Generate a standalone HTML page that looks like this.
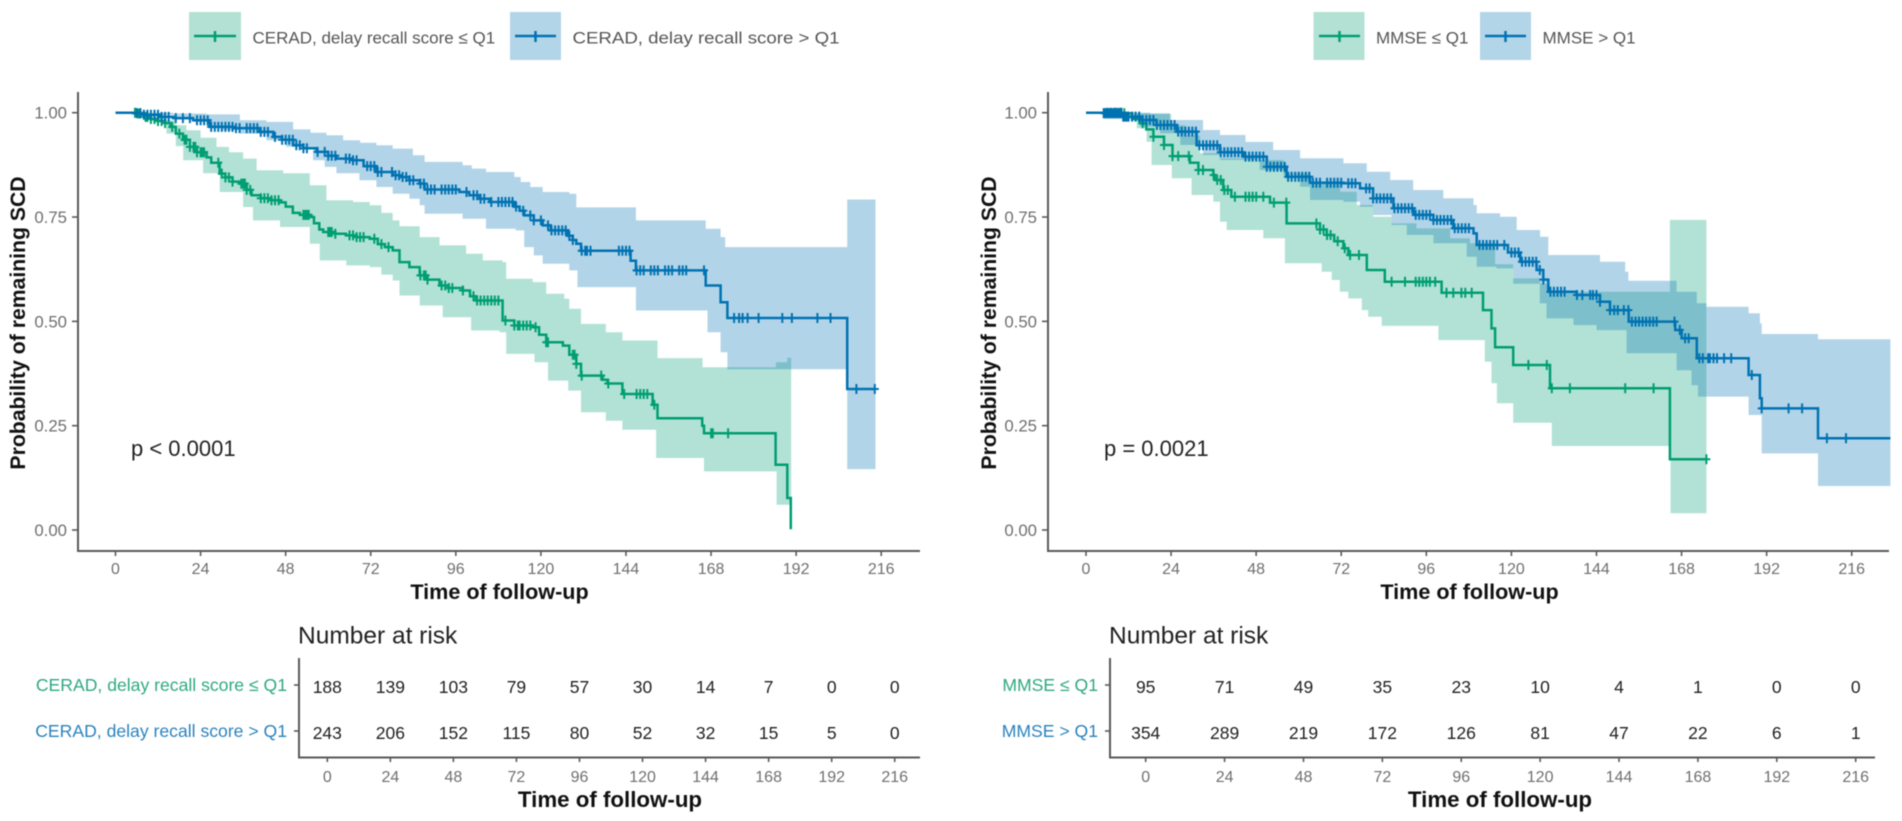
<!DOCTYPE html>
<html lang="en">
<head>
<meta charset="utf-8">
<title>Kaplan-Meier curves: CERAD delay recall and MMSE</title>
<style>
html,body{margin:0;padding:0;background:#fff;width:1902px;height:821px;overflow:hidden}
svg{display:block;filter:blur(.65px)}
text{font-family:"Liberation Sans",sans-serif}
</style>
</head>
<body>
<svg id="figure" xmlns="http://www.w3.org/2000/svg" width="1902" height="821" viewBox="0 0 1902 821">
  <g>
    <g>
      <rect x="189" y="12" width="52" height="48" fill="#b3e2d5"/>
      <path d="M194 36H236M215 31V42" stroke="#009E73" stroke-width="2.5" fill="none"/>
      <text x="252.5" y="43.5" font-size="17" fill="#555">CERAD, delay recall score ≤ Q1</text>
    </g>
    <g>
      <rect x="510" y="12" width="51" height="48" fill="#b3d5e8"/>
      <path d="M515 36H556M535.5 31V42" stroke="#0072B2" stroke-width="2.5" fill="none"/>
      <text x="572.5" y="43.5" font-size="17" fill="#555" textLength="267" lengthAdjust="spacingAndGlyphs">CERAD, delay recall score &gt; Q1</text>
    </g>
  </g>
  <g>
    <g>
      <rect x="1313.5" y="12" width="51" height="48" fill="#b3e2d5"/>
      <path d="M1319 36H1360M1339.5 31V42" stroke="#009E73" stroke-width="2.5" fill="none"/>
      <text x="1376" y="43.5" font-size="17" fill="#555">MMSE ≤ Q1</text>
    </g>
    <g>
      <rect x="1480" y="12" width="51" height="48" fill="#b3d5e8"/>
      <path d="M1485 36H1526M1505.5 31V42" stroke="#0072B2" stroke-width="2.5" fill="none"/>
      <text x="1542.5" y="43.5" font-size="17" fill="#555">MMSE &gt; Q1</text>
    </g>
  </g>
</svg>
<script>
// ---- Shared axis data ----
const xTickLabels = [0, 24, 48, 72, 96, 120, 144, 168, 192, 216];
const yTickLabels = [0, 0.25, 0.5, 0.75, 1];

// ---- Left panel: CERAD ----
const ceradLowTimes = [0,6,8,10,12,14,15.5,17,19,21,23,25.7,27,29.4,31,33,35,37,38.4,41,44,46.4,48,50,52,54.8,56,57.5,58.6,62,65,68,71.7,74,76,78.2,80.1,82.9,85.8,88,91.4,94,98,100,101.7,109.2,112.5,117.7,119.5,121.5,126.2,128,130,131.3,137.4,138.8,143,151.5,152.9,165.5,166,186.2,189.5,190.5];
const ceradLowSurvival = [1,.998,.99,.985,.98,.975,.966,.95,.935,.918,.905,.893,.88,.854,.845,.835,.83,.815,.802,.795,.79,.785,.775,.76,.755,.75,.735,.72,.714,.71,.706,.702,.698,.685,.678,.67,.642,.63,.61,.6,.586,.58,.574,.56,.55,.502,.49,.486,.468,.45,.442,.42,.398,.37,.36,.351,.326,.3,.268,.25,.232,.1565,.0766,.002];
const ceradLowUpperTimes = [0,5.9,14.4,17,20,24,28.5,32,36,39.8,47.3,54.8,59.5,67,71.7,75,78.2,80.1,85.8,91.4,98.9,103.6,109.2,110.2,117.7,121.5,126.6,128,131.3,138.3,143,152.9,165.6,186.3,189.5,190.6];
const ceradLowUpper = [1,.998,.982,.97,.958,.94,.918,.905,.89,.862,.855,.826,.79,.786,.778,.76,.742,.728,.702,.682,.662,.646,.642,.602,.594,.566,.554,.53,.494,.474,.454,.412,.39,.402,.413,.413];
const ceradLowLowerTimes = [0,5.9,10,14.4,17,19.1,24.7,29.4,36,38.8,46.4,54.8,57.6,65.1,71.7,75,78.2,80.1,85.8,92.3,100.3,108.3,110.2,118.2,122,127.7,131.3,138.3,143,152.5,166,186.5,190.6];
const ceradLowLower = [1,.998,.98,.95,.92,.886,.855,.81,.774,.742,.726,.686,.646,.634,.63,.612,.598,.562,.538,.51,.478,.474,.422,.402,.358,.334,.282,.262,.24,.1726,.1405,.0605,.0605];
const ceradLowCensor = [5.5,6.5,7,8.5,9,10,11,12,13,14,16,18,19.5,20,21,22,22.5,23,24,24.5,25,29,30,31,32,33,35.5,36,36.5,37,38,41,42,43,44,45,46,53,53.5,54,54.5,60,60.5,61,62,66,67,68,69,70,73,75,77,86,87,87.5,88,92,93,94,95,98,101,102,103,104,105,106,107,108,110,112.5,113.5,114,115,116,117,118.5,121.5,122,129,129.5,130,131.5,137,139,143.5,147,148,149,150,152,168,168.5,172.8];

const ceradHighTimes = [0,5,8,12.5,16.3,21.9,26.6,33.2,40.7,44.5,47,50.1,53,56.7,60,62.3,67,70,73.6,78.2,80.1,82.9,85.8,87.2,97,99.8,102.7,105.5,112.5,114,115.3,118,120.5,122.8,127.6,129,130,131.3,145.3,146.8,166.5,170.7,172.6,206.4,214.4];
const ceradHighSurvival = [1,.999,.995,.99,.987,.982,.966,.963,.954,.942,.935,.922,.915,.906,.897,.89,.886,.872,.858,.85,.846,.838,.83,.816,.81,.802,.794,.786,.775,.765,.754,.742,.73,.718,.705,.695,.686,.669,.645,.622,.586,.546,.508,.338,.338];
const ceradHighUpperTimes = [0,16.3,25.7,35.1,42.6,50.1,55,59.5,64.2,69,73.6,78.2,83.9,87.2,97.9,100.5,104.5,112.5,114.3,117,120.5,128,130,146.8,166.5,170.7,172,206.4,214.4];
const ceradHighUpper = [1,.998,.996,.982,.978,.96,.952,.946,.934,.928,.922,.914,.898,.882,.874,.866,.858,.846,.834,.822,.81,.806,.773,.742,.722,.702,.678,.792,.792];
const ceradHighLowerTimes = [0,5,16.3,21.9,25.7,30,35.1,42.6,48.2,55.7,59,62.3,68.8,73.6,78.2,82.9,85.8,87.2,97.9,104.5,112.9,115.3,118,120.5,128,130.3,146.8,167,170.7,172.6,206.4,214.4];
const ceradHighLower = [1,.995,.987,.978,.966,.958,.95,.934,.918,.886,.87,.855,.838,.822,.806,.794,.778,.758,.746,.722,.718,.678,.658,.638,.622,.582,.526,.474,.426,.385,.146,.146];
const ceradHighCensor = [6,7,8,9,10,11,12,13,14,15,17,19,21,23,24,25,26,27,28,29,30,31,32,33,34,35,37,38,39,40,41,42,43,45,47,48,49,50,51,52,53,54,57,59,60,61,62,65,66,67,68,71,72,73,74,75,78,79,80,81,82,83,84,86,87,88,89,90,92,93,94,95,96,99,101,102,103,104,106,108,109,110,111,112,113,115,117,118,120,122,123,124,125,126,127,128,129,131.5,132.5,133,134,142,143,144,145,147,148,149,151,152,153,155,156,157,159,160,161,166,174.5,175.9,176.9,178.3,181.4,188.1,190.8,198,201.7,209,214.2];

const ceradRowLabels = ["CERAD, delay recall score ≤ Q1", "CERAD, delay recall score > Q1"];
const ceradLowRisk = [188,139,103,79,57,30,14,7,0,0];
const ceradHighRisk = [243,206,152,115,80,52,32,15,5,0];

// ---- Right panel: MMSE ----
const mmseLowTimes = [0,10.5,13,15.2,17,19,22,24.4,29.3,31.7,35.9,36.4,38.7,41,51.9,56.6,66,67.9,70,72.6,74,79.2,84.3,100.3,112,114.4,115.4,120.5,130.9,164.7,175];
const mmseLowSurvival = [1,.9985,.985,.9745,.96,.9425,.9226,.896,.88,.8627,.8507,.8387,.8147,.7987,.7845,.7347,.72,.707,.692,.675,.659,.623,.595,.5687,.527,.483,.438,.3954,.3395,.1694,.1694];
const mmseLowUpperTimes = [0,10,18.1,24,28,32.2,37.8,48.1,55.7,56.6,63.2,71.7,76.4,81,86.2,93.2,102.7,108.3,115.4,120.5,128,130.9,164.7,175];
const mmseLowUpper = [1,.999,.997,.97,.945,.9027,.8907,.8867,.88,.8547,.8347,.8107,.7788,.7508,.7347,.7228,.6987,.687,.637,.603,.59,.571,.743,.743];
const mmseLowLowerTimes = [0,10,14.3,17.1,18.5,24.2,29.8,35.9,37.8,39.7,50,56.1,66.5,69.3,71.6,74,77.8,79.6,83.4,99.4,112.5,114.4,115.9,120.5,131.4,164.9,175];
const mmseLowLower = [1,.995,.9625,.9305,.8747,.8428,.8028,.7867,.7389,.7189,.699,.639,.619,.599,.571,.555,.527,.511,.489,.455,.4034,.3515,.3035,.2572,.2013,.04,.04];
const mmseLowCensor = [6,7,8,8.6,9.5,10,10.8,15,16,19,22,24.4,26,29,31.7,33,36,37,38,39,40,42,45,46,47,48,50,53,56.5,65,66,67,68,69,71,73,74.5,77,86.2,90,93,94,95,96,97,98.5,101.7,103.6,105.9,107,108.8,124.8,130,131.4,136.5,152.1,160.1,175];

const mmseHighTimes = [0,4.9,10.5,15.2,19.9,25.6,31.2,37.8,44.4,51,56.6,63.2,72.6,77.3,81,86.7,92.4,98,103.6,109.3,110.2,119,122.5,127.1,129,130.4,138.4,145,147.8,153.1,166.2,168,172.3,186.9,190.1,190.6,206.5,226.9];
const mmseHighSurvival = [1,.999,.9906,.9825,.9705,.9546,.922,.905,.8947,.8707,.8467,.8323,.8307,.8187,.7947,.7708,.755,.7428,.723,.7108,.683,.665,.643,.623,.6,.571,.5632,.547,.527,.4993,.4792,.4593,.4114,.3714,.3155,.2914,.2197,.2197];
const mmseHighUpperTimes = [0,18.1,23.7,33,37.8,45,52.8,60.4,72.6,79.2,85.8,92.3,100.8,109.3,110.2,116.8,121.5,128.1,130.4,145,152.1,153,166.6,172.3,175,186.9,190.1,190.6,206.5,226.9];
const mmseHighUpper = [1,.9985,.9825,.9585,.9466,.93,.9106,.8907,.8787,.8587,.8387,.8148,.7948,.7788,.7589,.7508,.7189,.7029,.659,.643,.619,.5974,.571,.5432,.5352,.5192,.495,.4697,.457,.457];
const mmseHighLowerTimes = [0,4.9,15.2,20.9,26.6,33,37.8,49,55.7,60.4,63.2,72.6,77.3,81,86.2,90.5,98,107.4,110.2,115.8,120.5,128,129.9,137.5,144,152.5,166.6,170.8,172.6,186.9,190.6,206.5,226.9];
const mmseHighLower = [1,.985,.9666,.9506,.9226,.8987,.8867,.8627,.8507,.8227,.7908,.7868,.7748,.7548,.7309,.7069,.687,.655,.631,.627,.59,.543,.507,.491,.479,.4235,.383,.347,.3196,.2756,.1836,.1054,.1054];
const mmseHighCensor = [5,5.5,6,6.5,7,7.5,8,8.5,9,9.5,10,10.5,11,11.5,12,13,14,15,16,17,18,19,20,21,22,23,24,25,26,27,28,29,30,31,32,33,34,35,36,37,38,39,40,41,42,43,44,45,46,47,48,49,50,51,52,53,54,55,56,57,58,59,60,61,62,63,64,65,66,68,69,70,71,72,74,75,76,79,80,81,82,83,84,85,86,87,88,89,90,91,92,93,94,95,96,97,98,99,100,101,102,103,104,105,106,107,108,111,112,113,114,115,116,118,120,121,122,123,124,125,126,127,128,129,131,132,133,134,135,138.5,140,142.2,143,144,145,147.8,149,150,151.7,153,154,155,156,157,158,159,160,161,166,167.5,169,170,173,174,175.5,176,177,178,180,182,187.8,190.6,198.2,202,209,214.4];

const mmseRowLabels = ["MMSE ≤ Q1", "MMSE > Q1"];
const mmseLowRisk = [95,71,49,35,23,10,4,1,0,0];
const mmseHighRisk = [354,289,219,172,126,81,47,22,6,1];

// ---- Drawing ----
const svgNS = "http://www.w3.org/2000/svg";
const figure = document.getElementById("figure");
const GREEN = "#009E73", BLUE = "#0072B2", AXIS = "#5a5a5a", TICK = "#6f6f6f";

function mk(parent, tag, attrs, content) {
  const node = document.createElementNS(svgNS, tag);
  for (const k in attrs) node.setAttribute(k, attrs[k]);
  if (content !== undefined) node.textContent = content;
  parent.appendChild(node);
  return node;
}
function stepAt(times, vals, t) {
  let v = vals[0];
  for (let i = 0; i < times.length; i++) { if (times[i] <= t) v = vals[i]; else break; }
  return v;
}
function stepPath(times, vals, x, y) {
  let d = "M" + x(times[0]).toFixed(1) + " " + y(vals[0]).toFixed(1);
  for (let i = 1; i < times.length; i++) d += "H" + x(times[i]).toFixed(1) + "V" + y(vals[i]).toFixed(1);
  return d;
}
function bandPath(ut, uv, lt, lv, x, y) {
  let d = stepPath(ut, uv, x, y);
  const n = lt.length - 1;
  d += "L" + x(lt[n]).toFixed(1) + " " + y(lv[n]).toFixed(1);
  for (let i = n; i > 0; i--) d += "V" + y(lv[i - 1]).toFixed(1) + "H" + x(lt[i - 1]).toFixed(1);
  return d + "Z";
}

function drawSeries(g, key, color, s, x, y) {
  const band = mk(g.bands, "path", {d: bandPath(s.ut, s.uv, s.lt, s.lv, x, y), fill: color, "fill-opacity": .3});
  
  
  const line = mk(g.lines, "path", {d: stepPath(s.t, s.v, x, y), fill: "none", stroke: color, "stroke-width": 2.5});
  
  
  s.c.forEach(function (ct) {
    const cx = x(ct), cy = y(stepAt(s.t, s.v, ct));
    const m = mk(g.lines, "path", {d: "M" + (cx - 4).toFixed(1) + " " + cy.toFixed(1) + "H" + (cx + 4).toFixed(1) + "M" + cx.toFixed(1) + " " + (cy - 5).toFixed(1) + "V" + (cy + 5).toFixed(1), stroke: color, "stroke-width": 2, fill: "none"});
    
    
  });
}

function drawPanel(p) {
  const root = mk(figure, "g", {});
  
  
  const x = function (t) { return p.x0 + p.xs * t; };
  const y = function (v) { return 530 - 417.3 * v; };

  const bands = mk(root, "g", {});
  
  
  const lines = mk(root, "g", {});
  
  
  drawSeries({bands: bands, lines: lines}, p.key + "-low", GREEN, p.low, x, y);
  drawSeries({bands: bands, lines: lines}, p.key + "-high", BLUE, p.high, x, y);

  const yAxis = mk(root, "path", {d: "M" + p.axisX + " 92V551H" + p.axisEnd, fill: "none", stroke: AXIS, "stroke-width": 2});
  
  

  yTickLabels.forEach(function (v) {
    const tk = mk(root, "line", {x1: p.axisX - 6, x2: p.axisX, y1: y(v), y2: y(v), stroke: AXIS, "stroke-width": 1.6});
    
    
    const lb = mk(root, "text", {x: p.axisX - 11, y: y(v) + 6, "text-anchor": "end", "font-size": 16.8, fill: TICK}, v.toFixed(2));
    
    
  });
  xTickLabels.forEach(function (t) {
    const tk = mk(root, "line", {x1: x(t), x2: x(t), y1: 551, y2: 556, stroke: AXIS, "stroke-width": 1.6});
    
    
    const lb = mk(root, "text", {x: x(t), y: 574, "text-anchor": "middle", "font-size": 16, fill: TICK}, String(t));
    
    
  });

  const xTitle = mk(root, "text", {x: p.titleX, y: 599, "text-anchor": "middle", "font-size": 21.6, "font-weight": "bold", fill: "#111"}, "Time of follow-up");
  
  
  const yTitle = mk(root, "text", {transform: "translate(" + p.yTitleX + " 323) rotate(-90)", "text-anchor": "middle", "font-size": 21.2, "font-weight": "bold", fill: "#111"}, "Probability of remaining SCD");
  
  
  const pv = mk(root, "text", {x: p.pX, y: 456, "font-size": 22, fill: "#222"}, p.pText);
  
  

  // risk table
  const tx = function (t) { return p.tx0 + p.txs * t; };
  const rowY = [687, 733];
  const tg = mk(root, "g", {});
  
  
  const tt = mk(tg, "text", {x: p.tAxisX - 1, y: 643.5, "font-size": 24.5, fill: "#222"}, "Number at risk");
  
  
  const ta = mk(tg, "path", {d: "M" + p.tAxisX + " 658V757.5H" + p.tAxisEnd, fill: "none", stroke: AXIS, "stroke-width": 2});
  
  
  [p.lowRisk, p.highRisk].forEach(function (row, r) {
    const col = r === 0 ? "#2fa883" : "#2a83bd";
    const yy = rowY[r];
    const rt = mk(tg, "line", {x1: p.tAxisX - 5, x2: p.tAxisX, y1: yy - 2, y2: yy - 2, stroke: AXIS, "stroke-width": 1.6});
    
    
    const rl = mk(tg, "text", {x: p.tAxisX - 12, y: yy + 4, "text-anchor": "end", "font-size": 17.6, fill: col}, p.rows[r]);
    
    
    row.forEach(function (n, i) {
      const c = mk(tg, "text", {x: tx(xTickLabels[i]), y: yy + 6, "text-anchor": "middle", "font-size": 17.5, fill: "#222"}, String(n));
      
      
    });
  });
  xTickLabels.forEach(function (t) {
    const tk = mk(tg, "line", {x1: tx(t), x2: tx(t), y1: 757.5, y2: 762, stroke: AXIS, "stroke-width": 1.6});
    
    
    const lb = mk(tg, "text", {x: tx(t), y: 782, "text-anchor": "middle", "font-size": 16, fill: TICK}, String(t));
    
    
  });
  const tb = mk(tg, "text", {x: p.tTitleX, y: 807, "text-anchor": "middle", "font-size": 22.3, "font-weight": "bold", fill: "#111"}, "Time of follow-up");
  
  
}

drawPanel({
  key: "cerad", x0: 115.5, xs: 3.545, axisX: 78, axisEnd: 920, titleX: 499.5, yTitleX: 25, pX: 131, pText: "p < 0.0001",
  tx0: 327.3, txs: 2.627, tAxisX: 299, tAxisEnd: 920, tTitleX: 610, rows: ceradRowLabels, lowRisk: ceradLowRisk, highRisk: ceradHighRisk,
  low: {t: ceradLowTimes, v: ceradLowSurvival, ut: ceradLowUpperTimes, uv: ceradLowUpper, lt: ceradLowLowerTimes, lv: ceradLowLower, c: ceradLowCensor},
  high: {t: ceradHighTimes, v: ceradHighSurvival, ut: ceradHighUpperTimes, uv: ceradHighUpper, lt: ceradHighLowerTimes, lv: ceradHighLower, c: ceradHighCensor}
});
drawPanel({
  key: "mmse", x0: 1086, xs: 3.545, axisX: 1048, axisEnd: 1889, titleX: 1469.5, yTitleX: 996, pX: 1104, pText: "p = 0.0021",
  tx0: 1145.7, txs: 3.287, tAxisX: 1110, tAxisEnd: 1875, tTitleX: 1500, rows: mmseRowLabels, lowRisk: mmseLowRisk, highRisk: mmseHighRisk,
  low: {t: mmseLowTimes, v: mmseLowSurvival, ut: mmseLowUpperTimes, uv: mmseLowUpper, lt: mmseLowLowerTimes, lv: mmseLowLower, c: mmseLowCensor},
  high: {t: mmseHighTimes, v: mmseHighSurvival, ut: mmseHighUpperTimes, uv: mmseHighUpper, lt: mmseHighLowerTimes, lv: mmseHighLower, c: mmseHighCensor}
});
</script>
</body>
</html>
